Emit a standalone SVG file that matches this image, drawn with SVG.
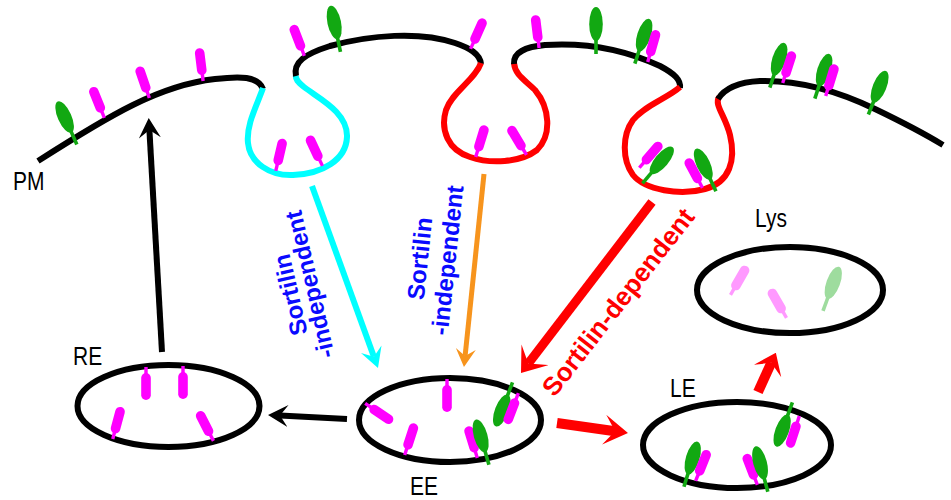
<svg xmlns="http://www.w3.org/2000/svg" width="951" height="500" viewBox="0 0 951 500">
  <style>
    .mem { fill: none; stroke-width: 6; stroke-linecap: butt; }
    .blk { stroke: #000; }
    .cy { stroke: #00ffff; }
    .rd { stroke: #ff0000; }
    .org { fill: none; stroke: #000; stroke-width: 6; }
    .m { fill: #ff00ff; }
    .g { fill: #12a812; }
    .mf { fill: #ff99ff; }
    .gf { fill: #9edc9e; }
    .lbl { font-family: "Liberation Sans", Arial, sans-serif; font-size: 25px; fill: #000; }
    .blue { font-family: "Liberation Sans", Arial, sans-serif; font-size: 24px; font-weight: bold; fill: #0a0aff; text-anchor: middle; }
    .redt { font-family: "Liberation Sans", Arial, sans-serif; font-size: 26px; font-weight: bold; fill: #ff0000; text-anchor: middle; }
    .arr { fill: none; stroke-linecap: butt; }
  </style>
  <defs>
    <!-- receptor: capsule body on a short stem, base at the origin, pointing up -->
    <g id="mag">
      <rect x="-1.7" y="-7" width="3.4" height="8"/>
      <rect x="-4.8" y="-32" width="9.6" height="27" rx="4.8"/>
    </g>
    <!-- ligand-like leaf on a stem crossing the membrane at the origin -->
    <g id="grn">
      <rect x="-1.8" y="-10" width="3.6" height="17"/>
      <ellipse cx="0" cy="-23" rx="6.8" ry="17"/>
    </g>
    <marker id="ah-k" markerUnits="userSpaceOnUse" viewBox="0 -11 20 22" markerWidth="20" markerHeight="22" refX="8" refY="0" orient="auto">
      <path d="M0,-11 L20,0 L0,11 L8,0 Z" fill="#000"/>
    </marker>
    <marker id="ah-c" markerUnits="userSpaceOnUse" viewBox="0 -11 20 22" markerWidth="20" markerHeight="22" refX="8" refY="0" orient="auto">
      <path d="M0,-11 L20,0 L0,11 L8,0 Z" fill="#00ffff"/>
    </marker>
    <marker id="ah-o" markerUnits="userSpaceOnUse" viewBox="0 -10 18 20" markerWidth="18" markerHeight="20" refX="7" refY="0" orient="auto">
      <path d="M0,-10 L18,0 L0,10 L7,0 Z" fill="#f7941d"/>
    </marker>
    <marker id="ah-rl" markerUnits="userSpaceOnUse" viewBox="0 -17 23 34" markerWidth="23" markerHeight="34" refX="11" refY="0" orient="auto">
      <path d="M0,-17 L23,0 L0,17 L11,0 Z" fill="#ff0000"/>
    </marker>
    <marker id="ah-rm" markerUnits="userSpaceOnUse" viewBox="0 -15 24 30" markerWidth="24" markerHeight="30" refX="11" refY="0" orient="auto">
      <path d="M0,-15 L24,0 L0,15 L11,0 Z" fill="#ff0000"/>
    </marker>
    <marker id="ah-rs" markerUnits="userSpaceOnUse" viewBox="0 -15 20 30" markerWidth="20" markerHeight="30" refX="9" refY="0" orient="auto">
      <path d="M0,-15 L20,0 L0,15 L9,0 Z" fill="#ff0000"/>
    </marker>
  </defs>

  <rect width="951" height="500" fill="#fff"/>

  <!-- connectors -->
  <g id="connectors">
    <path class="arr" d="M162,352 L149.4,130" stroke="#000" stroke-width="6" marker-end="url(#ah-k)"/>
    <path class="arr" d="M347,419 L280,415.6" stroke="#000" stroke-width="6" marker-end="url(#ah-k)"/>
    <path class="arr" d="M312,186 L373.9,356.7" stroke="#00ffff" stroke-width="6" marker-end="url(#ah-c)"/>
    <path class="arr" d="M484,174 L465.1,356" stroke="#f7941d" stroke-width="5" marker-end="url(#ah-o)"/>
    <path class="arr" d="M652,202 L528.3,363.5" stroke="#ff0000" stroke-width="9" marker-end="url(#ah-rl)"/>
    <path class="arr" d="M557,423 L615.1,431.2" stroke="#ff0000" stroke-width="10" marker-end="url(#ah-rm)"/>
    <path class="arr" d="M758,392 L771.3,362.8" stroke="#ff0000" stroke-width="10" marker-end="url(#ah-rs)"/>

    <text class="blue" transform="translate(298.4,293.1) rotate(-103)">Sortilin</text>
    <text class="blue" transform="translate(317.9,282.6) rotate(-103)">-independent</text>
    <text class="blue" transform="translate(428,259.4) rotate(-84)">Sortilin</text>
    <text class="blue" transform="translate(455.6,261.1) rotate(-84)">-independent</text>
    <text class="redt" transform="translate(625.2,307.6) rotate(-52)">Sortilin-dependent</text>
  </g>

  <!-- plasma membrane with coated invaginations -->
  <g id="pm">
    <path class="mem blk" d="M38,161 C110,115 160,85 215,79 C240,76 258,76 263,89"/>
    <path class="mem cy" d="M263,88 C257,105 246,125 248,143 C250,163 270,176 293,175 C322,174 346,160 347,137 C348,112 318,98 304,87 C298,82 295,79 296,75"/>
    <path class="mem blk" d="M296,76 C293,62 305,54 330,46 C370,35 420,31 455,43 C470,48 480,54 481,64"/>
    <path class="mem rd" d="M481,63 C475,80 452,92 446,110 C440,130 448,150 470,157 C490,164 520,163 537,150 C552,135 550,108 535,90 C525,80 515,75 514,63"/>
    <path class="mem blk" d="M514,64 C513,52 525,47 545,45 C590,42 630,52 660,66 C675,74 681,80 680,88"/>
    <path class="mem rd" d="M680,87 C668,98 645,105 633,120 C622,135 622,160 633,175 C645,190 680,196 705,189 C730,182 736,160 730,135 C725,115 714,105 719,97"/>
    <path class="mem blk" d="M718,99 C725,88 740,82 760,81 C800,80 840,92 875,109 C900,121 925,134 943,145"/>

    <use href="#grn" class="g" transform="translate(74,138) rotate(-24)"/>
    <use href="#mag" class="m" transform="translate(104,117) rotate(-22)"/>
    <use href="#mag" class="m" transform="translate(149,97) rotate(-19)"/>
    <use href="#mag" class="m" transform="translate(203,80) rotate(-7)"/>
    <use href="#mag" class="m" transform="translate(304,55) rotate(-21)"/>
    <use href="#grn" class="g" transform="translate(339,45) rotate(-12)"/>
    <use href="#mag" class="m" transform="translate(276,170) rotate(13)"/>
    <use href="#mag" class="m" transform="translate(322,165) rotate(-25)"/>
    <use href="#mag" class="m" transform="translate(471,48) rotate(24)"/>
    <use href="#mag" class="m" transform="translate(476,156) rotate(17)"/>
    <use href="#mag" class="m" transform="translate(526,154) rotate(-31)"/>
    <use href="#mag" class="m" transform="translate(539,47) rotate(-7)"/>
    <use href="#grn" class="g" transform="translate(596,47) rotate(0)"/>
    <use href="#grn" class="g" transform="translate(637,57) rotate(18)"/>
    <use href="#mag" class="m" transform="translate(648,61) rotate(16)"/>
    <use href="#mag" class="m" transform="translate(640,167) rotate(41)"/>
    <use href="#grn" class="g" transform="translate(647,178) rotate(40)"/>
    <use href="#mag" class="m" transform="translate(702,187) rotate(-28)"/>
    <use href="#grn" class="g" transform="translate(713,185) rotate(-25)"/>
    <use href="#grn" class="g" transform="translate(772,81) rotate(18)"/>
    <use href="#mag" class="m" transform="translate(783,82) rotate(18)"/>
    <use href="#grn" class="g" transform="translate(817,92) rotate(18)"/>
    <use href="#mag" class="m" transform="translate(826,95) rotate(17)"/>
    <use href="#grn" class="g" transform="translate(871,108) rotate(22)"/>

    <text class="lbl" transform="translate(13,190) scale(0.84,1)">PM</text>
  </g>

  <!-- recycling endosome -->
  <g id="re">
    <ellipse class="org" cx="168.5" cy="406" rx="91" ry="41"/>
    <use href="#mag" class="m" transform="translate(113,438) rotate(15)"/>
    <use href="#mag" class="m" transform="translate(146,368) rotate(180)"/>
    <use href="#mag" class="m" transform="translate(183,367) rotate(180)"/>
    <use href="#mag" class="m" transform="translate(213,440) rotate(-27)"/>
    <text class="lbl" transform="translate(73,365) scale(0.84,1)">RE</text>
  </g>

  <!-- early endosome -->
  <g id="ee">
    <ellipse class="org" cx="450" cy="420" rx="91" ry="42"/>
    <use href="#mag" class="m" transform="translate(366,404) rotate(124)"/>
    <use href="#mag" class="m" transform="translate(405,454) rotate(18)"/>
    <use href="#mag" class="m" transform="translate(447,380) rotate(180)"/>
    <use href="#mag" class="m" transform="translate(477,457) rotate(-17)"/>
    <use href="#grn" class="g" transform="translate(487,458) rotate(-16)"/>
    <use href="#grn" class="g" transform="translate(510,389) rotate(201)"/>
    <use href="#mag" class="m" transform="translate(518,394) rotate(201)"/>
    <text class="lbl" transform="translate(410,495) scale(0.84,1)">EE</text>
  </g>

  <!-- late endosome -->
  <g id="le">
    <ellipse class="org" cx="737" cy="445" rx="94" ry="43"/>
    <use href="#grn" class="g" transform="translate(686,480) rotate(17)"/>
    <use href="#mag" class="m" transform="translate(696,480) rotate(22)"/>
    <use href="#mag" class="m" transform="translate(757,484) rotate(-21)"/>
    <use href="#grn" class="g" transform="translate(766,485) rotate(-15)"/>
    <use href="#grn" class="g" transform="translate(790,409) rotate(200)"/>
    <use href="#mag" class="m" transform="translate(799,417) rotate(198)"/>
    <text class="lbl" transform="translate(670,397) scale(0.84,1)">LE</text>
  </g>

  <!-- lysosome -->
  <g id="lys">
    <ellipse class="org" cx="790" cy="290" rx="93" ry="43"/>
    <use href="#mag" class="mf" transform="translate(731,294) rotate(30)"/>
    <use href="#mag" class="mf" transform="translate(786,317) rotate(-30)"/>
    <use href="#grn" class="gf" transform="translate(825.4,304.4) rotate(20)"/>
    <text class="lbl" transform="translate(755,227) scale(0.84,1)">Lys</text>
  </g>
</svg>
